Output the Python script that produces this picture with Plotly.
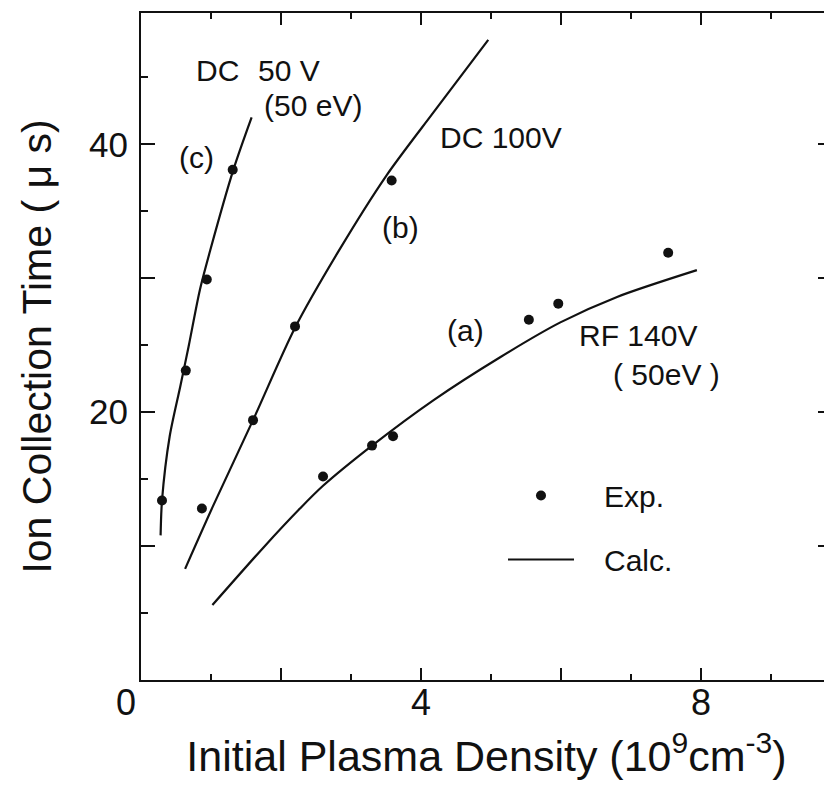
import plotly.graph_objects as go

# ---- data ----
# Experimental points
exp_c_x = [0.30, 0.64, 0.94, 1.31]
exp_c_y = [13.4, 23.1, 29.9, 38.1]
exp_b_x = [0.87, 1.60, 2.20, 3.58]
exp_b_y = [12.8, 19.4, 26.4, 37.3]
exp_a_x = [2.60, 3.30, 3.60, 5.54, 5.96, 7.53]
exp_a_y = [15.2, 17.5, 18.2, 26.9, 28.1, 31.9]

# Calculated curves
calc_c_x = [0.28, 0.30, 0.41, 0.56, 0.68, 0.84, 0.99, 1.32, 1.58]
calc_c_y = [10.8, 13.4, 18.2, 21.9, 24.9, 29.1, 32.1, 38.1, 42.0]
calc_b_x = [0.63, 1.03, 1.60, 2.20, 2.82, 3.51, 4.18, 4.96]
calc_b_y = [8.3, 13.0, 19.4, 26.3, 32.0, 37.7, 42.4, 47.8]
calc_a_x = [1.02, 1.75, 2.27, 2.60, 3.30, 4.18, 5.13, 5.99, 6.80, 7.94]
calc_a_y = [5.6, 9.9, 12.8, 14.5, 17.5, 20.9, 24.1, 26.7, 28.6, 30.6]

x_tickvals = [0, 2, 4, 6, 8]
x_ticktext = ["0\u2007\u2009\u200a", "", "4", "", "8"]
y_tickvals = [0, 10, 20, 30, 40]
y_ticktext = ["", "", "20", "", "40"]

labels = [
    # text, x, y
    ("DC", 1.09, 45.5),
    ("50 V", 2.11, 45.5),
    ("(50 eV)", 2.46, 42.9),
    ("(c)", 0.79, 39.0),
    ("DC 100V", 5.14, 40.5),
    ("(b)", 3.70, 33.8),
    ("(a)", 4.64, 26.1),
    ("RF 140V", 7.10, 25.7),
    ("( 50eV )", 7.51, 22.8),
]

AX_FONT = "Liberation Sans, Arial, sans-serif"
BLACK = "#111111"

fig = go.Figure()

for i, (cx, cy) in enumerate([(calc_c_x, calc_c_y), (calc_b_x, calc_b_y), (calc_a_x, calc_a_y)]):
    fig.add_trace(go.Scatter(
        x=cx, y=cy, mode="lines", line=dict(color=BLACK, width=2.2, shape="spline", smoothing=0.8),
        name="\u00a0\u00a0\u00a0Calc.", legendgroup="calc", showlegend=(i == 0), legendrank=2,
    ))

for i, (ex, ey) in enumerate([(exp_c_x, exp_c_y), (exp_b_x, exp_b_y), (exp_a_x, exp_a_y)]):
    fig.add_trace(go.Scatter(
        x=ex, y=ey, mode="markers", marker=dict(color=BLACK, size=10),
        name="\u00a0\u00a0\u00a0Exp.", legendgroup="exp", showlegend=(i == 0), legendrank=1,
    ))

for text, x, y in labels:
    fig.add_annotation(x=x, y=y, text=text, showarrow=False,
                       font=dict(family=AX_FONT, size=30, color=BLACK),
                       xanchor="center", yanchor="middle")

axis_common = dict(
    showline=True, linecolor=BLACK, linewidth=2, mirror="ticks",
    ticks="inside", tickcolor=BLACK, tickwidth=2,
    showgrid=False, zeroline=False,
)

fig.update_xaxes(
    range=[0, 9.87], tickmode="array", tickvals=x_tickvals, ticktext=x_ticktext, ticklen=12,
    tickfont=dict(family=AX_FONT, size=36, color=BLACK), ticklabelstandoff=-10,
    minor=dict(dtick=1, ticks="inside", ticklen=6, tickcolor=BLACK, tickwidth=2, showgrid=False),
    title=dict(text="Initial Plasma Density (10<sup>9</sup>cm<sup>-3</sup>)",
               font=dict(family=AX_FONT, size=43, color=BLACK), standoff=19),
    **axis_common,
)
fig.update_yaxes(
    range=[0, 49.8], tickmode="array", tickvals=y_tickvals, ticktext=y_ticktext, ticklen=14,
    tickfont=dict(family=AX_FONT, size=35, color=BLACK), ticklabelstandoff=4,
    minor=dict(dtick=5, ticks="inside", ticklen=7, tickcolor=BLACK, tickwidth=2, showgrid=False),
    title=dict(text="Ion Collection Time ( \u03bc s)",
               font=dict(family=AX_FONT, size=41, color=BLACK), standoff=25),
    **axis_common,
)

# the page adds an 8px body margin: figure is sized so the plot lands where the reference has it
fig.update_layout(
    width=824, height=777,
    margin=dict(l=133, r=0, t=5, b=105, autoexpand=False),
    paper_bgcolor="white", plot_bgcolor="white",
    showlegend=True,
    legend=dict(
        x=(495 - 133) / 691, y=(672 - 519.5) / 667, xanchor="left", yanchor="middle",
        font=dict(family=AX_FONT, size=30, color=BLACK),
        bgcolor="rgba(0,0,0,0)", itemwidth=66, tracegroupgap=22, traceorder="grouped",
    ),
)

fig.write_html("out.html")
